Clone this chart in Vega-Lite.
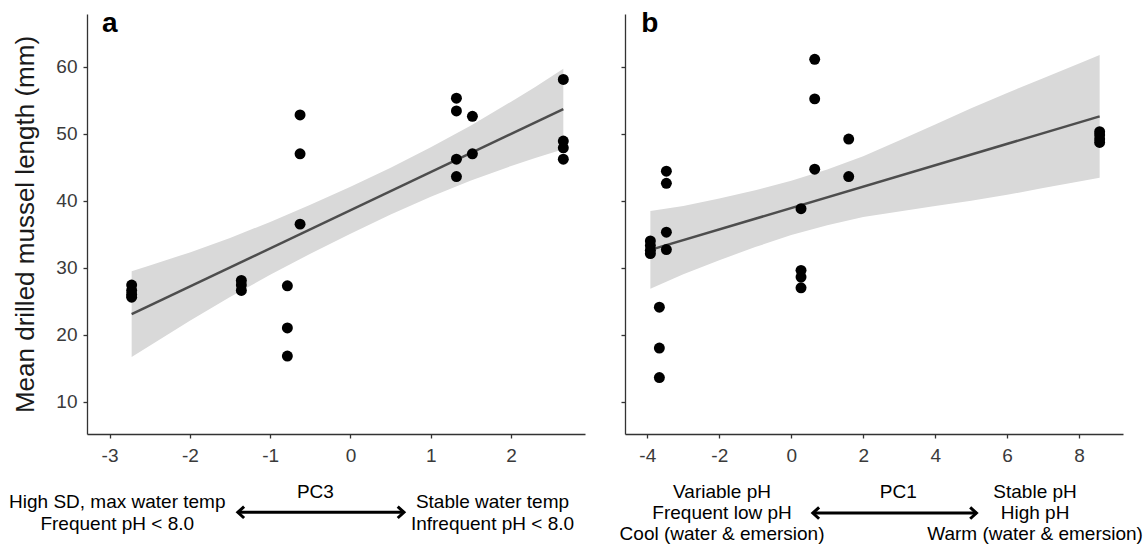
{
  "$schema": "https://vega.github.io/schema/vega-lite/v6.json",
  "background": "white",
  "padding": {"left": 9, "top": 10, "right": 0, "bottom": 0},
  "spacing": 40,
  "bounds": "flush",
  "datasets": {
    "ptsA": [
      {"x": -2.725, "y": 27.4}, {"x": -2.725, "y": 26.6}, {"x": -2.725, "y": 26.0}, {"x": -2.725, "y": 25.6},
      {"x": -1.359, "y": 28.1}, {"x": -1.359, "y": 27.4}, {"x": -1.359, "y": 26.6},
      {"x": -0.786, "y": 27.3}, {"x": -0.786, "y": 21.0}, {"x": -0.786, "y": 16.8},
      {"x": -0.628, "y": 52.8}, {"x": -0.628, "y": 47.0}, {"x": -0.628, "y": 36.5},
      {"x": 1.319, "y": 55.3}, {"x": 1.319, "y": 53.4}, {"x": 1.319, "y": 46.2}, {"x": 1.319, "y": 43.6},
      {"x": 1.518, "y": 52.6}, {"x": 1.518, "y": 47.0},
      {"x": 2.65, "y": 58.1}, {"x": 2.65, "y": 48.9}, {"x": 2.65, "y": 47.9}, {"x": 2.65, "y": 46.2}
    ],
    "bandA": [
      {"x": -2.725, "lo": 16.65, "hi": 29.45},
      {"x": -2.5, "lo": 18.33, "hi": 30.33},
      {"x": -2.0, "lo": 22.08, "hi": 32.28},
      {"x": -1.5, "lo": 25.63, "hi": 34.43},
      {"x": -1.0, "lo": 28.93, "hi": 36.83},
      {"x": -0.5, "lo": 32.08, "hi": 39.38},
      {"x": 0.0, "lo": 35.08, "hi": 42.08},
      {"x": 0.5, "lo": 37.93, "hi": 44.93},
      {"x": 1.0, "lo": 40.58, "hi": 47.98},
      {"x": 1.5, "lo": 43.03, "hi": 51.23},
      {"x": 2.0, "lo": 45.18, "hi": 54.78},
      {"x": 2.3, "lo": 46.39, "hi": 56.99},
      {"x": 2.65, "lo": 47.68, "hi": 59.68}
    ],
    "lineA": [{"x": -2.725, "y": 23.05}, {"x": 2.65, "y": 53.68}],
    "labA": [{"x": -3.094, "y": 65.12, "t": "a"}],
    "annA": [
      {"x": -2.904, "y": -5.03, "t": "High SD, max water temp"},
      {"x": -2.904, "y": -8.22, "t": "Frequent pH < 8.0"},
      {"x": 1.768, "y": -5.03, "t": "Stable water temp"},
      {"x": 1.768, "y": -8.22, "t": "Infrequent pH < 8.0"},
      {"x": -0.437, "y": -3.43, "t": "PC3"}
    ],
    "arrA": [{"x": -1.403, "x2": 0.666, "y": -6.52}],
    "ptsB": [
      {"x": -3.915, "y": 34.0}, {"x": -3.915, "y": 33.3}, {"x": -3.915, "y": 32.6}, {"x": -3.915, "y": 32.1},
      {"x": -3.665, "y": 24.1}, {"x": -3.665, "y": 18.0}, {"x": -3.665, "y": 13.6},
      {"x": -3.47, "y": 44.4}, {"x": -3.47, "y": 42.6}, {"x": -3.47, "y": 35.3}, {"x": -3.47, "y": 32.7},
      {"x": 0.272, "y": 38.8}, {"x": 0.272, "y": 29.6}, {"x": 0.272, "y": 28.6}, {"x": 0.272, "y": 27.0},
      {"x": 0.652, "y": 61.1}, {"x": 0.652, "y": 55.2}, {"x": 0.652, "y": 44.7},
      {"x": 1.597, "y": 49.2}, {"x": 1.597, "y": 43.6},
      {"x": 8.571, "y": 50.3}, {"x": 8.571, "y": 49.8}, {"x": 8.571, "y": 49.2}, {"x": 8.571, "y": 48.7}
    ],
    "bandB": [
      {"x": -3.915, "lo": 26.86, "hi": 38.46},
      {"x": -3.0, "lo": 29.02, "hi": 39.22},
      {"x": -2.0, "lo": 31.12, "hi": 40.32},
      {"x": -1.0, "lo": 33.07, "hi": 41.57},
      {"x": 0.0, "lo": 34.86, "hi": 42.96},
      {"x": 1.0, "lo": 36.35, "hi": 44.65},
      {"x": 2.0, "lo": 37.55, "hi": 46.65},
      {"x": 3.0, "lo": 38.4, "hi": 49.0},
      {"x": 4.0, "lo": 39.19, "hi": 51.39},
      {"x": 5.0, "lo": 39.99, "hi": 53.79},
      {"x": 6.0, "lo": 40.88, "hi": 56.08},
      {"x": 7.0, "lo": 41.88, "hi": 58.28},
      {"x": 8.0, "lo": 42.88, "hi": 60.48},
      {"x": 8.571, "lo": 43.44, "hi": 61.74}
    ],
    "lineB": [{"x": -3.915, "y": 32.66}, {"x": 8.571, "y": 52.59}],
    "labB": [{"x": -4.17, "y": 65.12, "t": "b"}],
    "annB": [
      {"x": -1.923, "y": -3.43, "t": "Variable pH"},
      {"x": -1.923, "y": -6.63, "t": "Frequent low pH"},
      {"x": -1.923, "y": -9.72, "t": "Cool (water & emersion)"},
      {"x": 6.776, "y": -3.43, "t": "Stable pH"},
      {"x": 6.776, "y": -6.63, "t": "High pH"},
      {"x": 6.776, "y": -9.72, "t": "Warm (water & emersion)"},
      {"x": 2.974, "y": -3.43, "t": "PC1"}
    ],
    "arrB": [{"x": 0.6, "x2": 5.147, "y": -6.63}]
  },
  "config": {
    "view": {"stroke": null},
    "font": "Liberation Sans",
    "axis": {
      "grid": false,
      "domainColor": "#333333",
      "domainWidth": 1.3,
      "tickColor": "#333333",
      "tickWidth": 1.3,
      "tickSize": 4,
      "labelFont": "Liberation Sans",
      "labelFontSize": 19,
      "labelColor": "#3a3a3a",
      "labelExpr": "toString(datum.value)",
      "titleFont": "Liberation Sans",
      "titleFontWeight": "normal",
      "titleColor": "#1a1a1a"
    },
    "text": {"font": "Liberation Sans"}
  },
  "hconcat": [
    {
      "width": 498,
      "height": 420,
      "layer": [
        {
          "data": {"name": "bandA"},
          "mark": {"type": "area", "color": "#d9d9d9", "opacity": 1},
          "encoding": {
            "x": {"field": "x", "type": "quantitative", "scale": {"domain": [-3.281, 2.92], "nice": false, "zero": false},
                  "axis": {"values": [-3, -2, -1, 0, 1, 2], "title": null, "labelPadding": 8}},
            "y": {"field": "lo", "type": "quantitative", "scale": {"domain": [5.17, 67.87], "nice": false, "zero": false},
                  "axis": {"values": [10, 20, 30, 40, 50, 60], "title": "Mean drilled mussel length (mm)", "titleFontSize": 26, "titlePadding": 17, "labelPadding": 6}},
            "y2": {"field": "hi"}
          }
        },
        {
          "data": {"name": "lineA"},
          "mark": {"type": "line", "color": "#4d4d4d", "strokeWidth": 2.5},
          "encoding": {"x": {"field": "x", "type": "quantitative"}, "y": {"field": "y", "type": "quantitative"}}
        },
        {
          "data": {"name": "ptsA"},
          "mark": {"type": "circle", "color": "black", "opacity": 1, "size": 120},
          "encoding": {"x": {"field": "x", "type": "quantitative"}, "y": {"field": "y", "type": "quantitative"}}
        },
        {
          "data": {"name": "labA"},
          "mark": {"type": "text", "fontSize": 28, "fontWeight": "bold", "align": "left", "baseline": "alphabetic", "color": "black"},
          "encoding": {"x": {"field": "x", "type": "quantitative"}, "y": {"field": "y", "type": "quantitative"}, "text": {"field": "t"}}
        },
        {
          "data": {"name": "annA"},
          "mark": {"type": "text", "fontSize": 19, "align": "center", "baseline": "middle", "color": "black"},
          "encoding": {"x": {"field": "x", "type": "quantitative"}, "y": {"field": "y", "type": "quantitative"}, "text": {"field": "t"}}
        },
        {
          "data": {"name": "arrA"},
          "mark": {"type": "rule", "color": "black", "strokeWidth": 3},
          "encoding": {"x": {"field": "x", "type": "quantitative"}, "x2": {"field": "x2"}, "y": {"field": "y", "type": "quantitative"}}
        },
        {
          "data": {"name": "arrA"},
          "mark": {"type": "point", "shape": "M1.1,-1L0,0L1.1,1", "filled": false, "stroke": "black", "strokeWidth": 3, "size": 130, "opacity": 1, "strokeJoin": "miter"},
          "encoding": {"x": {"field": "x", "type": "quantitative"}, "y": {"field": "y", "type": "quantitative"}}
        },
        {
          "data": {"name": "arrA"},
          "mark": {"type": "point", "shape": "M-1.1,-1L0,0L-1.1,1", "filled": false, "stroke": "black", "strokeWidth": 3, "size": 130, "opacity": 1, "strokeJoin": "miter"},
          "encoding": {"x": {"field": "x2", "type": "quantitative"}, "y": {"field": "y", "type": "quantitative"}}
        }
      ]
    },
    {
      "width": 498,
      "height": 420,
      "layer": [
        {
          "data": {"name": "bandB"},
          "mark": {"type": "area", "color": "#d9d9d9", "opacity": 1},
          "encoding": {
            "x": {"field": "x", "type": "quantitative", "scale": {"domain": [-4.62, 9.22], "nice": false, "zero": false},
                  "axis": {"values": [-4, -2, 0, 2, 4, 6, 8], "title": null, "labelPadding": 8}},
            "y": {"field": "lo", "type": "quantitative", "scale": {"domain": [5.17, 67.87], "nice": false, "zero": false},
                  "axis": {"values": [10, 20, 30, 40, 50, 60], "title": null, "labels": false}},
            "y2": {"field": "hi"}
          }
        },
        {
          "data": {"name": "lineB"},
          "mark": {"type": "line", "color": "#4d4d4d", "strokeWidth": 2.5},
          "encoding": {"x": {"field": "x", "type": "quantitative"}, "y": {"field": "y", "type": "quantitative"}}
        },
        {
          "data": {"name": "ptsB"},
          "mark": {"type": "circle", "color": "black", "opacity": 1, "size": 120},
          "encoding": {"x": {"field": "x", "type": "quantitative"}, "y": {"field": "y", "type": "quantitative"}}
        },
        {
          "data": {"name": "labB"},
          "mark": {"type": "text", "fontSize": 28, "fontWeight": "bold", "align": "left", "baseline": "alphabetic", "color": "black"},
          "encoding": {"x": {"field": "x", "type": "quantitative"}, "y": {"field": "y", "type": "quantitative"}, "text": {"field": "t"}}
        },
        {
          "data": {"name": "annB"},
          "mark": {"type": "text", "fontSize": 19, "align": "center", "baseline": "middle", "color": "black"},
          "encoding": {"x": {"field": "x", "type": "quantitative"}, "y": {"field": "y", "type": "quantitative"}, "text": {"field": "t"}}
        },
        {
          "data": {"name": "arrB"},
          "mark": {"type": "rule", "color": "black", "strokeWidth": 3},
          "encoding": {"x": {"field": "x", "type": "quantitative"}, "x2": {"field": "x2"}, "y": {"field": "y", "type": "quantitative"}}
        },
        {
          "data": {"name": "arrB"},
          "mark": {"type": "point", "shape": "M1.1,-1L0,0L1.1,1", "filled": false, "stroke": "black", "strokeWidth": 3, "size": 130, "opacity": 1, "strokeJoin": "miter"},
          "encoding": {"x": {"field": "x", "type": "quantitative"}, "y": {"field": "y", "type": "quantitative"}}
        },
        {
          "data": {"name": "arrB"},
          "mark": {"type": "point", "shape": "M-1.1,-1L0,0L-1.1,1", "filled": false, "stroke": "black", "strokeWidth": 3, "size": 130, "opacity": 1, "strokeJoin": "miter"},
          "encoding": {"x": {"field": "x2", "type": "quantitative"}, "y": {"field": "y", "type": "quantitative"}}
        }
      ]
    }
  ]
}
